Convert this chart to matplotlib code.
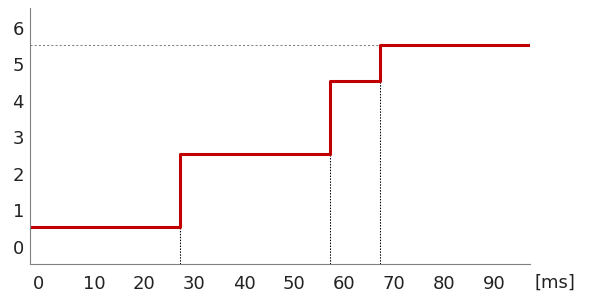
import matplotlib
matplotlib.use("Agg")
import matplotlib.pyplot as plt
import matplotlib.transforms as mtransforms

plt.rcParams['font.family'] = ['DejaVu Sans']

# step signal: time [ms] -> level
times = [0, 30, 60, 70, 100]
levels = [1, 3, 5, 6, 6]
xtick_vals = [0, 10, 20, 30, 40, 50, 60, 70, 80, 90]
ytick_vals = [0, 1, 2, 3, 4, 5, 6]
unit_label = "[ms]"

red = "#C00000"
grey = "#808080"
txt = "#222222"

fig = plt.figure(figsize=(5.98, 3.01), dpi=100)
ax = fig.add_axes([29.5 / 598, 37 / 301, 500.5 / 598, 256 / 301])

# dotted guides under each step and at the final level
ax.vlines(times[1:4], 0, levels[0:3], colors="black", linewidth=0.75,
          linestyles=(0, (1.4, 1.4)))
ax.hlines(levels[-1], times[0], times[3], colors=grey, linewidth=0.75,
          linestyles=(0, (2, 2)))

ax.step(times, levels, where="post", color=red, linewidth=2.2)

ax.set_xlim(0, 100)
ax.set_ylim(0, 7)

for s in ["top", "right"]:
    ax.spines[s].set_visible(False)
for s in ["left", "bottom"]:
    ax.spines[s].set_color(grey)
    ax.spines[s].set_linewidth(0.8)

ax.set_xticks(xtick_vals)
ax.set_xticklabels([str(v) for v in xtick_vals], ha="left")
ax.set_yticks(ytick_vals)
ax.set_yticklabels([str(v) for v in ytick_vals])
ax.tick_params(length=0, labelsize=13, labelcolor=txt)
ax.tick_params(axis="x", pad=8)
ax.tick_params(axis="y", pad=4)

# labels sit between the ticks, not on them
dx = mtransforms.ScaledTranslation(3 / 100, 0, fig.dpi_scale_trans)
for lab in ax.get_xticklabels():
    lab.set_transform(lab.get_transform() + dx)
dy = mtransforms.ScaledTranslation(0, 17 / 100, fig.dpi_scale_trans)
for lab in ax.get_yticklabels():
    lab.set_transform(lab.get_transform() + dy)

ax.annotate(unit_label, xy=(1, 0), xycoords="axes fraction",
            xytext=(5, -19), textcoords="offset pixels",
            ha="left", va="center", fontsize=13, color=txt)

fig.savefig("out.png", dpi=100)
